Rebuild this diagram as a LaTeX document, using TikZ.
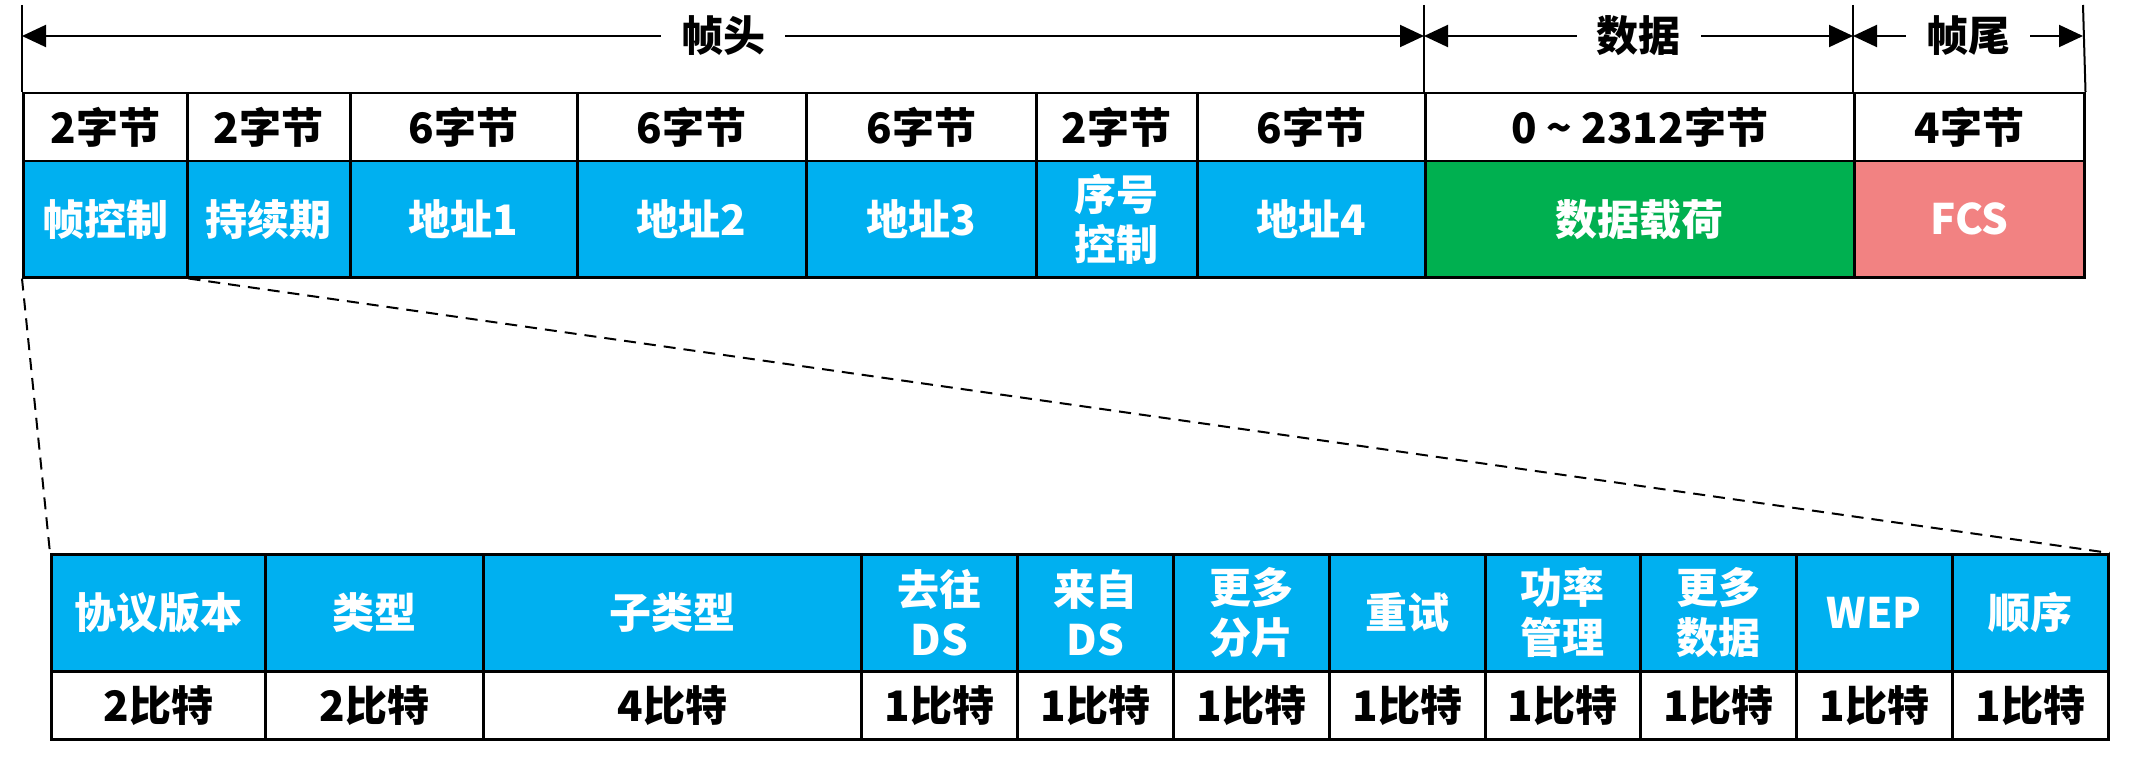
\documentclass[tikz,border=0pt]{standalone}
\usepackage{fontspec}
\setmainfont{Noto Sans CJK SC}[BoldFont={* Black}]
\usetikzlibrary{arrows.meta}
\definecolor{cblue}{HTML}{00B0F0}
\definecolor{cgreen}{HTML}{00B050}
\definecolor{cred}{HTML}{F28282}
\tikzset{
  cell/.style={draw=black, line width=2.5pt, inner sep=0pt, anchor=north west, align=center,
    font=\bfseries\fontsize{42}{50}\selectfont},
  topcell/.style={cell, fill=white, text=black, minimum height=68pt},
  fldcell/.style={cell, fill=cblue, text=white, minimum height=116pt},
  subcell/.style={cell, fill=cblue, text=white, minimum height=117pt},
  bitcell/.style={cell, fill=white, text=black, minimum height=68pt},
  span/.style={line width=2pt, {Triangle[length=24pt,width=22pt]}-{Triangle[length=24pt,width=22pt]}},
  spanlabel/.style={fill=white, inner xsep=20pt, inner ysep=2pt, font=\bfseries\fontsize{42}{50}\selectfont},
  tick/.style={line width=2pt},
  zoomline/.style={line width=2pt, dash pattern=on 12pt off 8pt}
}
\begin{document}
\begin{tikzpicture}[x=1pt,y=-1pt]
\useasboundingbox (0,0) rectangle (2139,773);
% top row: byte counts
\node[topcell, minimum width=164pt] (b1) at (22,92) {2字节};
\node[topcell, minimum width=163pt] (b2) at (186,92) {2字节};
\node[topcell, minimum width=227pt] (b3) at (349,92) {6字节};
\node[topcell, minimum width=229pt] (b4) at (576,92) {6字节};
\node[topcell, minimum width=230pt] (b5) at (805,92) {6字节};
\node[topcell, minimum width=161pt] (b6) at (1035,92) {2字节};
\node[topcell, minimum width=228pt] (b7) at (1196,92) {6字节};
\node[topcell, minimum width=429pt] (b8) at (1424,92) {0 \textasciitilde{} 2312字节};
\node[topcell, minimum width=230pt] (b9) at (1853,92) {4字节};
% field row
\node[fldcell, minimum width=164pt] (f1) at (22,160) {帧控制};
\node[fldcell, minimum width=163pt] (f2) at (186,160) {持续期};
\node[fldcell, minimum width=227pt] (f3) at (349,160) {地址1};
\node[fldcell, minimum width=229pt] (f4) at (576,160) {地址2};
\node[fldcell, minimum width=230pt] (f5) at (805,160) {地址3};
\node[fldcell, minimum width=161pt] (f6) at (1035,160) {序号\\控制};
\node[fldcell, minimum width=228pt] (f7) at (1196,160) {地址4};
\node[fldcell, fill=cgreen, minimum width=429pt] (f8) at (1424,160) {数据载荷};
\node[fldcell, fill=cred, minimum width=230pt] (f9) at (1853,160) {FCS};
% span markers
\coordinate (t0) at (22,5);
\coordinate (t1) at (1424,5);
\coordinate (t2) at (1853,5);
\coordinate (t3) at (2083,5);
\draw[tick] (t0) -- (b1.north west);
\draw[tick] (t1) -- (b8.north west);
\draw[tick] (t2) -- (b9.north west);
\draw[tick] (t3) -- (b9.north east);
\coordinate (a0) at (22,36);
\coordinate (a1) at (1424,36);
\coordinate (a2) at (1853,36);
\coordinate (a3) at (2083,36);
\draw[span] (a0) -- node[spanlabel] (l1) {帧头} (a1);
\draw[span] (a1) -- node[spanlabel] (l2) {数据} (a2);
\draw[span] (a2) -- node[spanlabel] (l3) {帧尾} (a3);
% frame control breakdown
\node[subcell, minimum width=214pt] (h1) at (50,553) {协议版本};
\node[subcell, minimum width=218pt] (h2) at (264,553) {类型};
\node[subcell, minimum width=378pt] (h3) at (482,553) {子类型};
\node[subcell, minimum width=156pt] (h4) at (860,553) {去往\\DS};
\node[subcell, minimum width=156pt] (h5) at (1016,553) {来自\\DS};
\node[subcell, minimum width=156pt] (h6) at (1172,553) {更多\\分片};
\node[subcell, minimum width=156pt] (h7) at (1328,553) {重试};
\node[subcell, minimum width=155pt] (h8) at (1484,553) {功率\\管理};
\node[subcell, minimum width=156pt] (h9) at (1639,553) {更多\\数据};
\node[subcell, minimum width=156pt] (h10) at (1795,553) {WEP};
\node[subcell, minimum width=156pt] (h11) at (1951,553) {顺序};
\node[bitcell, minimum width=214pt] (w1) at (50,670) {2比特};
\node[bitcell, minimum width=218pt] (w2) at (264,670) {2比特};
\node[bitcell, minimum width=378pt] (w3) at (482,670) {4比特};
\node[bitcell, minimum width=156pt] (w4) at (860,670) {1比特};
\node[bitcell, minimum width=156pt] (w5) at (1016,670) {1比特};
\node[bitcell, minimum width=156pt] (w6) at (1172,670) {1比特};
\node[bitcell, minimum width=156pt] (w7) at (1328,670) {1比特};
\node[bitcell, minimum width=155pt] (w8) at (1484,670) {1比特};
\node[bitcell, minimum width=156pt] (w9) at (1639,670) {1比特};
\node[bitcell, minimum width=156pt] (w10) at (1795,670) {1比特};
\node[bitcell, minimum width=156pt] (w11) at (1951,670) {1比特};
% zoom lines
\draw[zoomline] (f1.south west) -- (h1.north west);
\draw[zoomline] (f1.south east) -- (h11.north east);
\end{tikzpicture}
\end{document}
